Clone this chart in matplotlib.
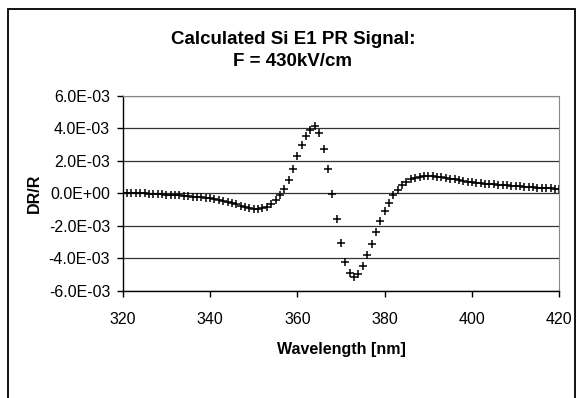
import matplotlib
matplotlib.use("Agg")
import matplotlib.pyplot as plt
from matplotlib.patches import Rectangle

# calculated PR signal, 1 nm steps
wavelength = list(range(320, 421))
dr_r = [
    0.00, 0.00, 0.00, 0.00, -0.01, -0.01, -0.02, -0.03, -0.04, -0.06,   # 320-329
    -0.08, -0.10, -0.12, -0.14, -0.16, -0.18, -0.21, -0.23, -0.26, -0.29,  # 330-339
    -0.32, -0.37, -0.42, -0.47, -0.53, -0.60, -0.68, -0.76, -0.85, -0.93,  # 340-349
    -0.99, -1.00, -0.93, -0.84, -0.68, -0.42, -0.13, 0.27, 0.83, 1.49,     # 350-359
    2.27, 2.99, 3.55, 3.90, 4.12, 3.70, 2.75, 1.52, -0.02, -1.58,          # 360-369
    -3.07, -4.23, -4.88, -5.17, -4.97, -4.48, -3.81, -3.13, -2.39, -1.70,  # 370-379
    -1.10, -0.58, -0.10, 0.22, 0.50, 0.72, 0.86, 0.95, 1.00, 1.03,         # 380-389
    1.04, 1.04, 1.02, 0.99, 0.94, 0.90, 0.86, 0.82, 0.77, 0.72,            # 390-399
    0.68, 0.65, 0.62, 0.59, 0.57, 0.55, 0.52, 0.50, 0.48, 0.46,            # 400-409
    0.44, 0.42, 0.40, 0.38, 0.36, 0.34, 0.32, 0.31, 0.29, 0.28,            # 410-419
    0.27,                                                                  # 420
]
dr_r = [v * 1e-3 for v in dr_r]

yticks = [-6e-3, -4e-3, -2e-3, 0.0, 2e-3, 4e-3, 6e-3]
ytick_labels = ["-6.0E-03", "-4.0E-03", "-2.0E-03", "0.0E+00",
                "2.0E-03", "4.0E-03", "6.0E-03"]
xticks = [320, 340, 360, 380, 400, 420]

plt.rcParams['font.family'] = ['Liberation Sans', 'DejaVu Sans']

fig = plt.figure(figsize=(5.8, 3.98), dpi=100)
fig.patches.append(Rectangle((8 / 580, -0.2), 567 / 580, 1.2 - 9 / 398,
                             transform=fig.transFigure, fill=False,
                             edgecolor='black', linewidth=1.3))

ax = fig.add_axes([0.2116, 0.2696, 0.7527, 0.4899])
ax.plot(wavelength, dr_r, linestyle='none', marker='+', color='black',
        markersize=6, markeredgewidth=1.1)

ax.set_xlim(320, 420)
ax.set_ylim(-6e-3, 6e-3)
ax.set_xticks(xticks)
ax.set_xticklabels([str(t) for t in xticks])
ax.set_yticks(yticks)
ax.set_yticklabels(ytick_labels)
ax.tick_params(labelsize=11.5, direction='out', length=4, width=1, color='black')
ax.tick_params(axis='x', pad=11)
ax.tick_params(axis='y', pad=5)
ax.yaxis.grid(True, color='#333333', linewidth=0.9)
ax.set_axisbelow(True)

for side in ['top', 'right']:
    ax.spines[side].set_color('#888888')
for side in ['left', 'bottom']:
    ax.spines[side].set_color('black')
    ax.spines[side].set_linewidth(1)

ax.set_ylabel('DR/R', fontsize=11.5, fontweight='bold', labelpad=5)
ax.set_xlabel('Wavelength [nm]', fontsize=11.5, fontweight='bold', labelpad=11)

fig.text(0.505, 1 - 39 / 398, 'Calculated Si E1 PR Signal:', ha='center',
         va='center', fontsize=13.5, fontweight='bold')
fig.text(0.505, 1 - 62 / 398, 'F = 430kV/cm', ha='center', va='center',
         fontsize=13.5, fontweight='bold')

fig.savefig('out.png', dpi=100)
